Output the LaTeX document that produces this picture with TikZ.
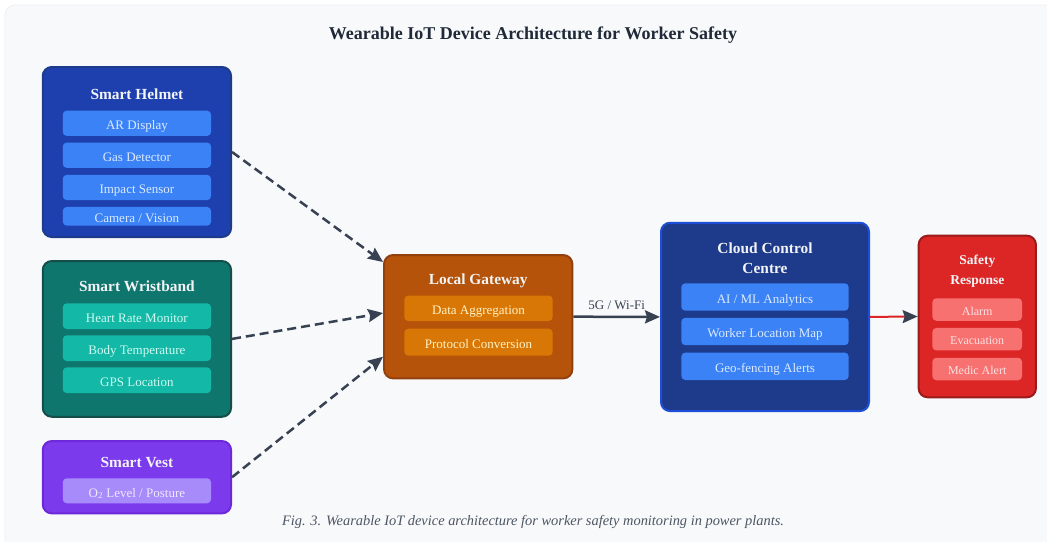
\documentclass[tikz,border=0pt]{standalone}
\usepackage{fontspec}
\setmainfont{Liberation Serif}
\usetikzlibrary{arrows.meta,calc}

\definecolor{panelBg}{HTML}{F8F9FB}
\definecolor{panelLine}{HTML}{EEF0F3}
\definecolor{inkDark}{HTML}{1F2937}
\definecolor{inkCaption}{HTML}{4B5563}
\definecolor{arrowGray}{HTML}{374151}
\definecolor{titleInk}{HTML}{F3F4F6}

\definecolor{helmetFill}{HTML}{1E40AF}
\definecolor{helmetLine}{HTML}{1E3A8A}
\definecolor{blueSub}{HTML}{3B82F6}
\definecolor{blueTxt}{HTML}{DBEAFE}

\definecolor{wristFill}{HTML}{0F766E}
\definecolor{wristLine}{HTML}{134E4A}
\definecolor{tealSub}{HTML}{14B8A6}
\definecolor{tealTxt}{HTML}{CCFBF1}

\definecolor{vestFill}{HTML}{7C3AED}
\definecolor{vestLine}{HTML}{6D28D9}
\definecolor{vestSub}{HTML}{A78BFA}
\definecolor{vestTxt}{HTML}{EDE9FE}

\definecolor{gwFill}{HTML}{B45309}
\definecolor{gwLine}{HTML}{92400E}
\definecolor{gwSub}{HTML}{D97706}
\definecolor{gwTxt}{HTML}{FEF3C7}

\definecolor{cloudFill}{HTML}{1E3A8A}
\definecolor{cloudLine}{HTML}{1D4ED8}

\definecolor{safeFill}{HTML}{DC2626}
\definecolor{safeLine}{HTML}{991B1B}
\definecolor{safeSub}{HTML}{F87171}
\definecolor{safeTxt}{HTML}{FEE2E2}

\begin{document}
\begin{tikzpicture}[x=1pt,y=-1pt,
  outer/.style={rectangle, rounded corners=9pt, line width=2pt, inner sep=0pt},
  subbox/.style={rectangle, rounded corners=4pt, draw=none, inner sep=0pt,
    text height=12.5pt, text depth=0pt, font=\fontsize{13}{15}\selectfont},
  boxtitle/.style={text=titleInk, align=center, inner sep=0pt,
    font=\fontsize{15.4}{19.5}\selectfont\bfseries},
  feed/.style={draw=arrowGray, line width=2.5pt, dash pattern=on 9pt off 5pt,
    -{Stealth[length=15pt,width=13pt,inset=2pt]}},
  link/.style={draw=arrowGray, line width=2.5pt,
    -{Stealth[length=15pt,width=13pt,inset=2pt]}},
  alertlink/.style={draw=safeFill, line width=2pt,
    -{Stealth[length=15pt,width=13pt,inset=2pt,color=arrowGray]}}
]
\useasboundingbox (0,0) rectangle (1047,541);
\fill[white] (0,0) rectangle (1047,541);
\draw[panelLine, fill=panelBg, rounded corners=10pt, line width=0.8pt] (5,5) rectangle (1070,570);

% heading
\node[text=inkDark, font=\fontsize{18}{21}\selectfont\bfseries] (heading) at (533,35.5) {Wearable IoT Device Architecture for Worker Safety};

% Smart Helmet
\node[outer, fill=helmetFill, draw=helmetLine, minimum width=188.3pt, minimum height=170pt] (helmet) at (136.9,152) {};
\node[boxtitle] (helmetT) at (136.9,94) {Smart Helmet};
\node[subbox, fill=blueSub, text=blueTxt, minimum width=148.3pt, minimum height=25.3pt] (ar) at (136.9,123.3) {AR Display};
\node[subbox, fill=blueSub, text=blueTxt, minimum width=148.3pt, minimum height=25.3pt] (gas) at (136.9,155.2) {Gas Detector};
\node[subbox, fill=blueSub, text=blueTxt, minimum width=148.3pt, minimum height=25.3pt] (impact) at (136.9,187.5) {Impact Sensor};
\node[subbox, fill=blueSub, text=blueTxt, minimum width=148.3pt, minimum height=18.7pt] (camera) at (136.9,216.3) {Camera / Vision};

% Smart Wristband
\node[outer, fill=wristFill, draw=wristLine, minimum width=188.3pt, minimum height=155.7pt] (wrist) at (136.9,338.9) {};
\node[boxtitle] (wristT) at (136.9,286.7) {Smart Wristband};
\node[subbox, fill=tealSub, text=tealTxt, minimum width=148.3pt, minimum height=25.7pt] (heart) at (136.9,316.2) {Heart Rate Monitor};
\node[subbox, fill=tealSub, text=tealTxt, minimum width=148.3pt, minimum height=25.7pt] (temp) at (136.9,348.2) {Body Temperature};
\node[subbox, fill=tealSub, text=tealTxt, minimum width=148.3pt, minimum height=25.7pt] (gps) at (136.9,380.3) {GPS Location};

% Smart Vest
\node[outer, fill=vestFill, draw=vestLine, minimum width=188.3pt, minimum height=72.3pt] (vest) at (136.9,477.2) {};
\node[boxtitle] (vestT) at (136.9,463) {Smart Vest};
\node[subbox, fill=vestSub, text=vestTxt, minimum width=148.3pt, minimum height=25pt] (oxy) at (136.9,490.8) {O\textsubscript{2} Level / Posture};

% Local Gateway
\node[outer, fill=gwFill, draw=gwLine, minimum width=188.3pt, minimum height=123.3pt] (gw) at (478.2,316.7) {};
\node[boxtitle] (gwT) at (478.2,280.7) {Local Gateway};
\node[subbox, fill=gwSub, text=gwTxt, minimum width=148.4pt, minimum height=25.5pt] (agg) at (478.5,308.3) {Data Aggregation};
\node[subbox, fill=gwSub, text=gwTxt, minimum width=148.4pt, minimum height=27pt] (proto) at (478.5,342.2) {Protocol Conversion};

% Cloud Control Centre
\node[outer, fill=cloudFill, draw=cloudLine, minimum width=208pt, minimum height=188.3pt] (cloud) at (765,316.9) {};
\node[boxtitle] (cloudT) at (765,258) {Cloud Control\\Centre};
\node[subbox, fill=blueSub, text=blueTxt, minimum width=167.4pt, minimum height=27.4pt] (ai) at (765,297) {AI / ML Analytics};
\node[subbox, fill=blueSub, text=blueTxt, minimum width=167.4pt, minimum height=27.4pt] (map) at (765,331.5) {Worker Location Map};
\node[subbox, fill=blueSub, text=blueTxt, minimum width=167.4pt, minimum height=27.4pt] (geo) at (765,366.3) {Geo-fencing Alerts};

% Safety Response
\node[outer, fill=safeFill, draw=safeLine, minimum width=117.3pt, minimum height=161.6pt] (safety) at (977.3,316.5) {};
\node[boxtitle, font=\fontsize{13.5}{19.3}\selectfont\bfseries] (safetyT) at (977.3,271.3) {Safety\\Response};
\node[subbox, fill=safeSub, text=safeTxt, font=\fontsize{12}{14}\selectfont, text height=11.5pt, minimum width=89.7pt, minimum height=22.5pt] (alarm) at (977.2,309.5) {Alarm};
\node[subbox, fill=safeSub, text=safeTxt, font=\fontsize{12}{14}\selectfont, text height=11.5pt, minimum width=89.7pt, minimum height=22.5pt] (evac) at (977.2,339.2) {Evacuation};
\node[subbox, fill=safeSub, text=safeTxt, font=\fontsize{12}{14}\selectfont, text height=11.5pt, minimum width=89.7pt, minimum height=22.5pt] (medic) at (977.2,369) {Medic Alert};

% connectors
\draw[feed] (helmet.east) -- ([yshift=54.7pt]gw.west);
\draw[feed] (wrist.east) -- ([yshift=3.7pt]gw.west);
\draw[feed] (vest.east) -- ([yshift=-40pt]gw.west);
\draw[link] (gw.east) -- node[above=3pt, text=arrowGray, font=\fontsize{13}{15}\selectfont] (net) {5G / Wi-Fi} (cloud.west);
\draw[alertlink] (cloud.east) -- (safety.west);

% caption
\node[text=inkCaption, font=\fontsize{14.4}{17}\selectfont\itshape] (caption) at (533,522) {Fig. 3. Wearable IoT device architecture for worker safety monitoring in power plants.};
\end{tikzpicture}
\end{document}
